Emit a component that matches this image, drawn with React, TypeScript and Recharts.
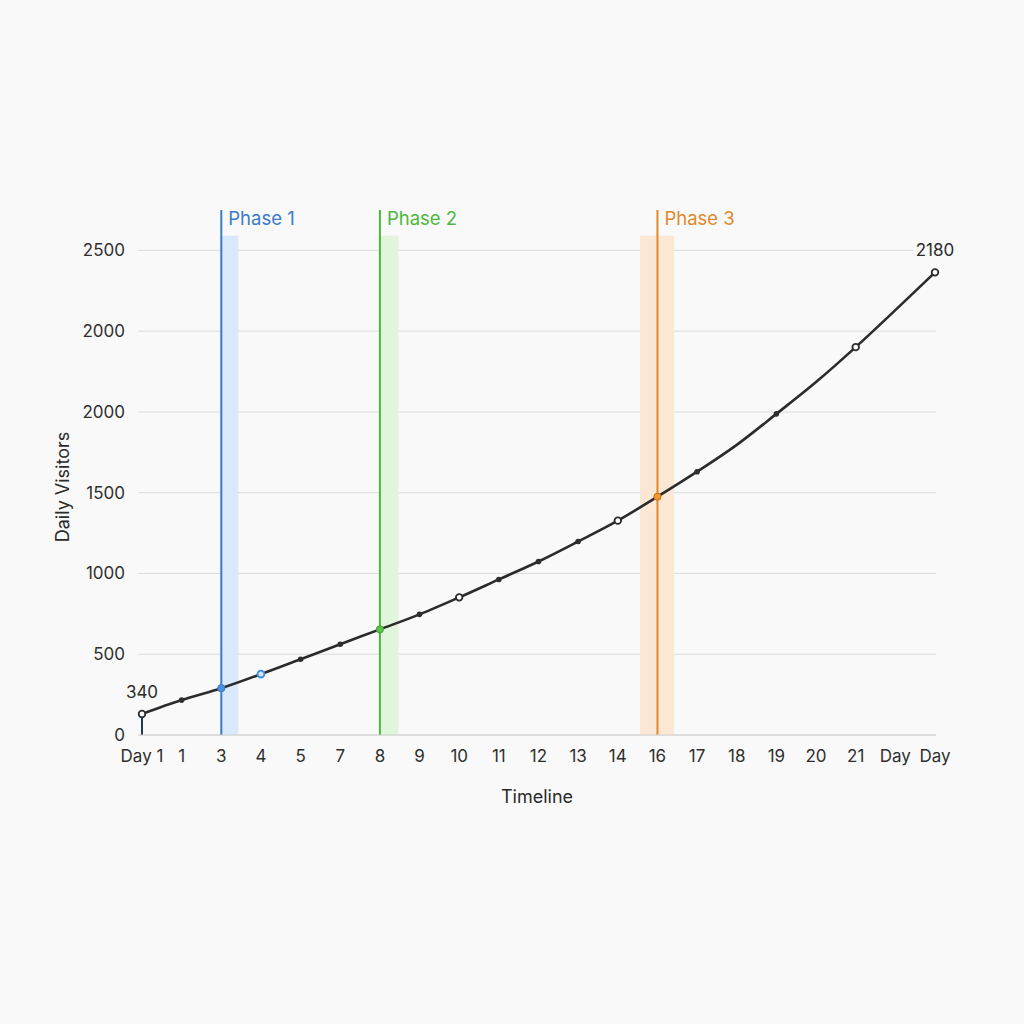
import React from 'react'
import { LineChart, Line, XAxis, YAxis, CartesianGrid, ReferenceLine, ReferenceArea, Label, LabelList } from 'recharts'

const dayLabels = ['Day 1', '1', '3', '4', '5', '7', '8', '9', '10', '11', '12', '13', '14', '16', '17', '18', '19', '20', '21', 'Day', 'Day']
const visitors = [130, 216, 290, 377, 469, 562, 654, 747, 852, 963, 1074, 1198, 1327, 1475, 1630, 1796, 1988, 2185, 2401, 2630, 2864]
const yTicks = [0, 500, 1000, 1500, 2000, 2500, 3000]
const yTickLabels = ['0', '500', '1000', '1500', '2000', '2000', '2500']
const pointLabels = ['340', '', '', '', '', '', '', '', '', '', '', '', '', '', '', '', '', '', '', '', '2180']

const phaseNames = ['Phase 1', 'Phase 2', 'Phase 3']
const phaseAt = [2, 6, 13]
const phaseBands = [[2, 2.43], [6, 6.47], [12.56, 13.42]]

// marker look per point
const markers = ['open', 'dot', 'blue', 'blueOpen', 'dot', 'dot', 'green', 'dot', 'open', 'dot', 'dot', 'dot', 'open', 'orange', 'dot', 'none', 'dot', 'none', 'open', 'none', 'open']
const phaseColors = ['#3a7cc7', '#4cb83c', '#e0892a']
const bandColors = ['#d9e8fb', '#e1f4dc', '#fbe7d4']

const BG = '#f9f9f9'
const FONT = 'Inter, "Noto Sans", sans-serif'

const data = visitors.map((v, i) => ({ idx: i, day: dayLabels[i], visitors: v, tag: pointLabels[i] }))

const Marker = (props: any) => {
  const { cx, cy, index } = props
  const kind = markers[index]
  if (kind === 'none' || cx == null) return null
  if (kind === 'dot') return <circle key={index} cx={cx} cy={cy} r={2.8} fill="#2e2e2e" />
  if (kind === 'open') return <circle key={index} cx={cx} cy={cy} r={3.3} fill="#fff" stroke="#2b2b2b" strokeWidth={1.8} />
  if (kind === 'blue') return <circle key={index} cx={cx} cy={cy} r={3.6} fill="#4a90e2" stroke="#3a7cc7" strokeWidth={1} />
  if (kind === 'blueOpen') return <circle key={index} cx={cx} cy={cy} r={3.4} fill="#cfe3fb" stroke="#3f88dc" strokeWidth={1.8} />
  if (kind === 'green') return <circle key={index} cx={cx} cy={cy} r={3.6} fill="#5cc04a" stroke="#43a334" strokeWidth={1} />
  if (kind === 'orange') return <circle key={index} cx={cx} cy={cy} r={3.6} fill="#f0952f" stroke="#c9711c" strokeWidth={1} />
  return null
}

const PointTag = (props: any) => {
  const { x, y, value } = props
  if (!value) return null
  const w = value.length * 10 + 4
  return (
    <g>
      <rect x={x - w / 2} y={y - 33} width={w} height={21} fill={BG} />
      <text x={x} y={y - 16} textAnchor="middle" fontSize={17} fill="#2a2a2a" fontFamily={FONT}>{value}</text>
    </g>
  )
}

export default function App() {
  return (
    <div style={{ position: 'absolute', left: 0, top: 0, width: 1024, height: 1024, background: BG }}>
      <LineChart width={1024} height={1024} data={data} margin={{ top: 210, right: 88, bottom: 219, left: 78 }}>
        <CartesianGrid vertical={false} horizontalValues={yTicks} stroke="#dcdcdc" strokeWidth={1} />
        {phaseBands.map((b, i) => (
          <ReferenceArea key={`band-${i}`} x1={b[0]} x2={b[1]} y1={0} y2={3090} fill={bandColors[i]} fillOpacity={1} stroke="none" ifOverflow="visible" />
        ))}
        <XAxis
          type="number"
          dataKey="idx"
          domain={[0, dayLabels.length - 1]}
          ticks={dayLabels.map((_, i) => i)}
          tickFormatter={(v: number) => dayLabels[v]}
          interval={0}
          padding={{ left: 4, right: 1 }}
          axisLine={{ stroke: '#cfcfcf' }}
          tickLine={false}
          tickMargin={9}
          height={70}
          tick={{ fontSize: 17, fill: '#2f2f2f', fontFamily: FONT }}
        >
          <Label value="Timeline" position="insideBottom" offset={2} style={{ fontSize: 18, fill: '#2a2a2a', fontFamily: FONT }} />
        </XAxis>
        <YAxis
          type="number"
          domain={[0, 3250]}
          ticks={yTicks}
          tickFormatter={(v: number) => yTickLabels[yTicks.indexOf(v)]}
          axisLine={false}
          tickLine={false}
          tickMargin={7}
          width={60}
          tick={{ fontSize: 17, fill: '#2f2f2f', fontFamily: FONT }}
        >
          <Label
            content={(p: any) => {
              const vb = p.viewBox
              const cx = vb.x - 16
              const cy = 487
              return (
                <text x={cx} y={cy} transform={`rotate(-90 ${cx} ${cy})`} textAnchor="middle" dominantBaseline="central" fontSize={18} fill="#2a2a2a" fontFamily={FONT}>
                  Daily Visitors
                </text>
              )
            }}
          />
        </YAxis>
        {phaseAt.map((x, i) => (
          <ReferenceLine
            key={`phase-${i}`}
            x={x}
            stroke={phaseColors[i]}
            strokeWidth={2}
            label={(p: any) => (
              <text x={p.viewBox.x + 7} y={p.viewBox.y + 15} fontSize={18.5} fill={phaseColors[i]} fontFamily={FONT}>
                {phaseNames[i]}
              </text>
            )}
          />
        ))}
        <ReferenceLine segment={[{ x: 0, y: 0 }, { x: 0, y: visitors[0] }]} stroke="#1e3a55" strokeWidth={2} />
        <Line
          type="monotone"
          dataKey="visitors"
          stroke="#2b2b2b"
          strokeWidth={2.6}
          dot={<Marker />}
          activeDot={false}
          isAnimationActive={false}
        >
          <LabelList dataKey="tag" content={<PointTag />} />
        </Line>
      </LineChart>
    </div>
  )
}
